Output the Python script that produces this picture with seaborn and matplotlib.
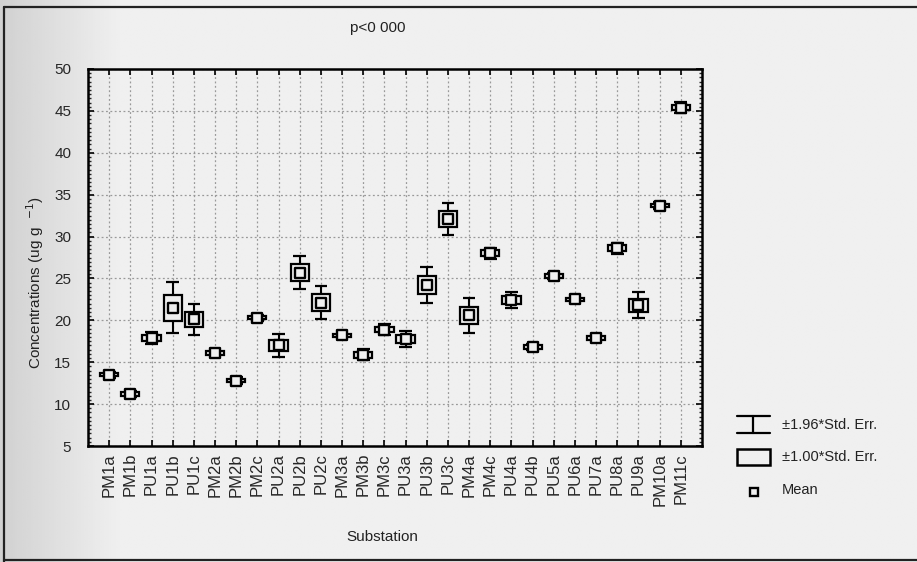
import numpy as np
import pandas as pd
import seaborn as sns
import matplotlib
matplotlib.use("Agg")
import matplotlib.pyplot as plt
from matplotlib.patches import Rectangle
from matplotlib.lines import Line2D
from matplotlib.ticker import MultipleLocator

# Substation labels, group means and standard errors
substations = ["PM1a", "PM1b", "PU1a", "PU1b", "PU1c", "PM2a", "PM2b", "PM2c",
               "PU2a", "PU2b", "PU2c", "PM3a", "PM3b", "PM3c", "PU3a", "PU3b",
               "PU3c", "PM4a", "PM4c", "PU4a", "PU4b", "PU5a", "PU6a", "PU7a",
               "PU8a", "PU9a", "PM10a", "PM11c"]
means = [13.5, 11.2, 17.9, 21.5, 20.1, 16.1, 12.8, 20.3,
         17.0, 25.7, 22.1, 18.2, 15.9, 18.9, 17.8, 24.2,
         32.1, 20.6, 28.0, 22.4, 16.8, 25.3, 22.5, 17.9,
         28.6, 21.8, 33.7, 45.4]
std_err = [0.20, 0.20, 0.35, 1.55, 0.95, 0.20, 0.20, 0.20,
           0.70, 1.00, 1.00, 0.20, 0.35, 0.35, 0.50, 1.10,
           1.00, 1.05, 0.35, 0.50, 0.20, 0.20, 0.20, 0.20,
           0.35, 0.80, 0.20, 0.35]
y_ticks = [5, 10, 15, 20, 25, 30, 35, 40, 45, 50]

df = pd.DataFrame({"Substation": substations, "Mean": means, "SE": std_err})

sns.set_theme(style="ticks")
plt.rcParams["font.family"] = ["Liberation Sans", "DejaVu Sans"]

W, H = 917, 562
fig = plt.figure(figsize=(W / 100, H / 100), dpi=100)
fig.patch.set_facecolor("#efefef")

# soft darker band on the left side of the sheet
bg = fig.add_axes([0, 0, 1, 1], zorder=-10)
xs = np.linspace(0, 1, 400)
shade = np.clip(xs * W / 120.0, 0, 1)
vals = 0.82 + (0.94 - 0.82) * shade
bg.imshow(np.tile(vals, (10, 1)), cmap="gray", vmin=0, vmax=1, aspect="auto",
          extent=[0, 1, 0, 1], interpolation="bilinear")
bg.set_xlim(0, 1)
bg.set_ylim(0, 1)
bg.axis("off")

# sheet border
for seg in [([4 / W, 4 / W], [0, 1 - 7 / H]), ([4 / W, 1], [1 - 7 / H, 1 - 7 / H]),
            ([4 / W, 1], [2 / H, 2 / H])]:
    fig.add_artist(Line2D(seg[0], seg[1], color="#222222", lw=1.6))

left, right, top, bottom = 88, 702, 69, 446
ax = fig.add_axes([left / W, 1 - bottom / H, (right - left) / W, (bottom - top) / H])
ax.set_facecolor("none")

n = len(substations)
x = np.arange(n)
m = np.array(means)
se = np.array(std_err)

box_w = 0.86
cap_w = 0.60
for xi, mi, si in zip(x, m, se):
    # +-1.96 SE whisker
    ax.vlines(xi, mi - 1.96 * si, mi + 1.96 * si, color="black", lw=1.5, zorder=3)
    ax.hlines([mi - 1.96 * si, mi + 1.96 * si], xi - cap_w / 2, xi + cap_w / 2,
              color="black", lw=1.6, zorder=3)
    # +-1.00 SE box
    ax.add_patch(Rectangle((xi - box_w / 2, mi - si), box_w, 2 * si,
                           facecolor="#efefef", edgecolor="black", lw=1.6, zorder=3.5))

sns.scatterplot(data=df, x="Substation", y="Mean", marker="s", s=42,
                facecolor="#efefef", edgecolor="black", linewidth=1.7,
                zorder=5, ax=ax, legend=False)

ax.set_xlim(-1, n)
ax.set_ylim(5, 50)
ax.set_xticks(x)
ax.set_xticklabels(substations, rotation=90, fontsize=12)
ax.set_yticks(y_ticks)
ax.set_yticklabels([str(v) for v in y_ticks], fontsize=11)
ax.yaxis.set_minor_locator(MultipleLocator(0.5))
ax.tick_params(axis="both", which="major", direction="in", length=4, width=1.2,
               top=True, right=True, color="black")
ax.tick_params(axis="y", which="major", pad=12)
ax.tick_params(axis="x", which="major", pad=5)
ax.tick_params(axis="y", which="minor", direction="in", length=2.5, width=1.0,
               left=True, right=True)
ax.set_xlabel("")
ax.set_ylabel("")
for sp in ax.spines.values():
    sp.set_visible(True)
    sp.set_linewidth(1.8)
    sp.set_color("black")

ax.grid(True, which="major", color="#999999", linestyle=(0, (1.5, 2.0)), lw=0.9)
ax.set_axisbelow(True)

fig.text(378 / W, 1 - 28 / H, "p<0 000", ha="center", va="center", fontsize=11,
         color="#222222")
fig.text(382 / W, 1 - 537 / H, "Substation", ha="center", va="center", fontsize=11,
         color="#222222")
fig.text(35 / W, 1 - 283 / H, r"Concentrations (ug g  $^{-1}$)", ha="center",
         va="center", rotation=90, fontsize=11, color="#222222")

# key for the whisker, box and mean symbols
def fx(px):
    return px / W

def fy(py):
    return 1 - py / H

fig.add_artist(Line2D([fx(737), fx(770)], [fy(416), fy(416)], color="black", lw=1.6))
fig.add_artist(Line2D([fx(737), fx(770)], [fy(433), fy(433)], color="black", lw=1.6))
fig.add_artist(Line2D([fx(753), fx(753)], [fy(416), fy(433)], color="black", lw=1.6))
fig.add_artist(Rectangle((fx(737), fy(465)), fx(770) - fx(737), fy(449) - fy(465),
                         facecolor="none", edgecolor="black", lw=1.8,
                         transform=fig.transFigure))
fig.add_artist(Line2D([fx(754)], [fy(492)], marker="s", markersize=6,
                      markerfacecolor="none", markeredgecolor="black",
                      markeredgewidth=1.7, linestyle="none"))
for ty, label in [(425, "±1.96*Std. Err."), (457, "±1.00*Std. Err."), (490, "Mean")]:
    fig.text(fx(782), fy(ty), label, ha="left", va="center", fontsize=10.5,
             color="#222222")

fig.savefig("out.png", dpi=100, facecolor=fig.get_facecolor())
